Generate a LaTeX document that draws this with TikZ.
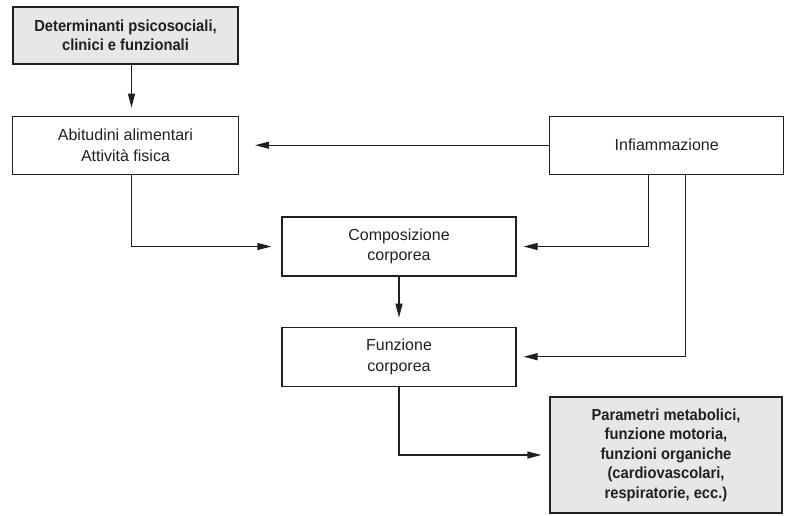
\documentclass[tikz,border=0pt]{standalone}
\usepackage{fontspec}
\setmainfont{Liberation Sans}[BoldFeatures={FakeStretch=0.92}]
\usetikzlibrary{positioning,arrows.meta}
\definecolor{boxgray}{HTML}{E6E7E8}
\definecolor{linegray}{HTML}{231F20}

\begin{document}
\begin{tikzpicture}[x=1pt,y=-1pt,
    box/.style={rectangle, draw=linegray, line width=1.2pt, inner sep=0pt, align=center, text=linegray, font=\fontsize{16}{20.5}\selectfont},
    graybox/.style={box, fill=boxgray, font=\fontsize{16}{19.5}\selectfont\bfseries},
    arr/.style={-{Triangle[length=14pt,width=7pt]}, draw=linegray, line width=1.2pt}
  ]
  \useasboundingbox (0,0) rectangle (785,515);

  \node[graybox, minimum width=225pt, minimum height=57pt] (determinanti) at (125.5,35.5) {Determinanti psicosociali,\\clinici e funzionali};
  \node[box, minimum width=226pt, minimum height=58pt] (abitudini) [below=51pt of determinanti] {Abitudini alimentari\\Attività fisica};
  \node[box, minimum width=234pt, minimum height=58pt] (infiammazione) [right=310pt of abitudini] {Infiammazione};
  \node[box, minimum width=234pt, minimum height=59pt] (composizione) at (399,246.5) {Composizione\\corporea};
  \node[box, minimum width=234pt, minimum height=59pt] (funzione) [below=50pt of composizione] {Funzione\\corporea};
  \node[graybox, minimum width=232pt, minimum height=116pt] (parametri) at (666,455) {Parametri metabolici,\\funzione motoria,\\funzioni organiche\\(cardiovascolari,\\respiratorie, ecc.)};

  \draw[arr, shorten >=8pt] ([xshift=6pt]determinanti.south) -- ([xshift=6pt]abitudini.north);
  \draw[arr, shorten >=16pt] (infiammazione.west) -- (abitudini.east);
  \draw[arr, shorten >=10pt] ([xshift=6pt]abitudini.south) |- (composizione.west);
  \draw[arr, shorten >=7pt] ([xshift=-18pt]infiammazione.south) |- (composizione.east);
  \draw[arr, shorten >=7pt] ([xshift=19pt]infiammazione.south) |- (funzione.east);
  \draw[arr, shorten >=9pt] (composizione.south) -- (funzione.north);
  \draw[arr, shorten >=8pt] (funzione.south) |- (parametri.west);

\end{tikzpicture}
\end{document}
